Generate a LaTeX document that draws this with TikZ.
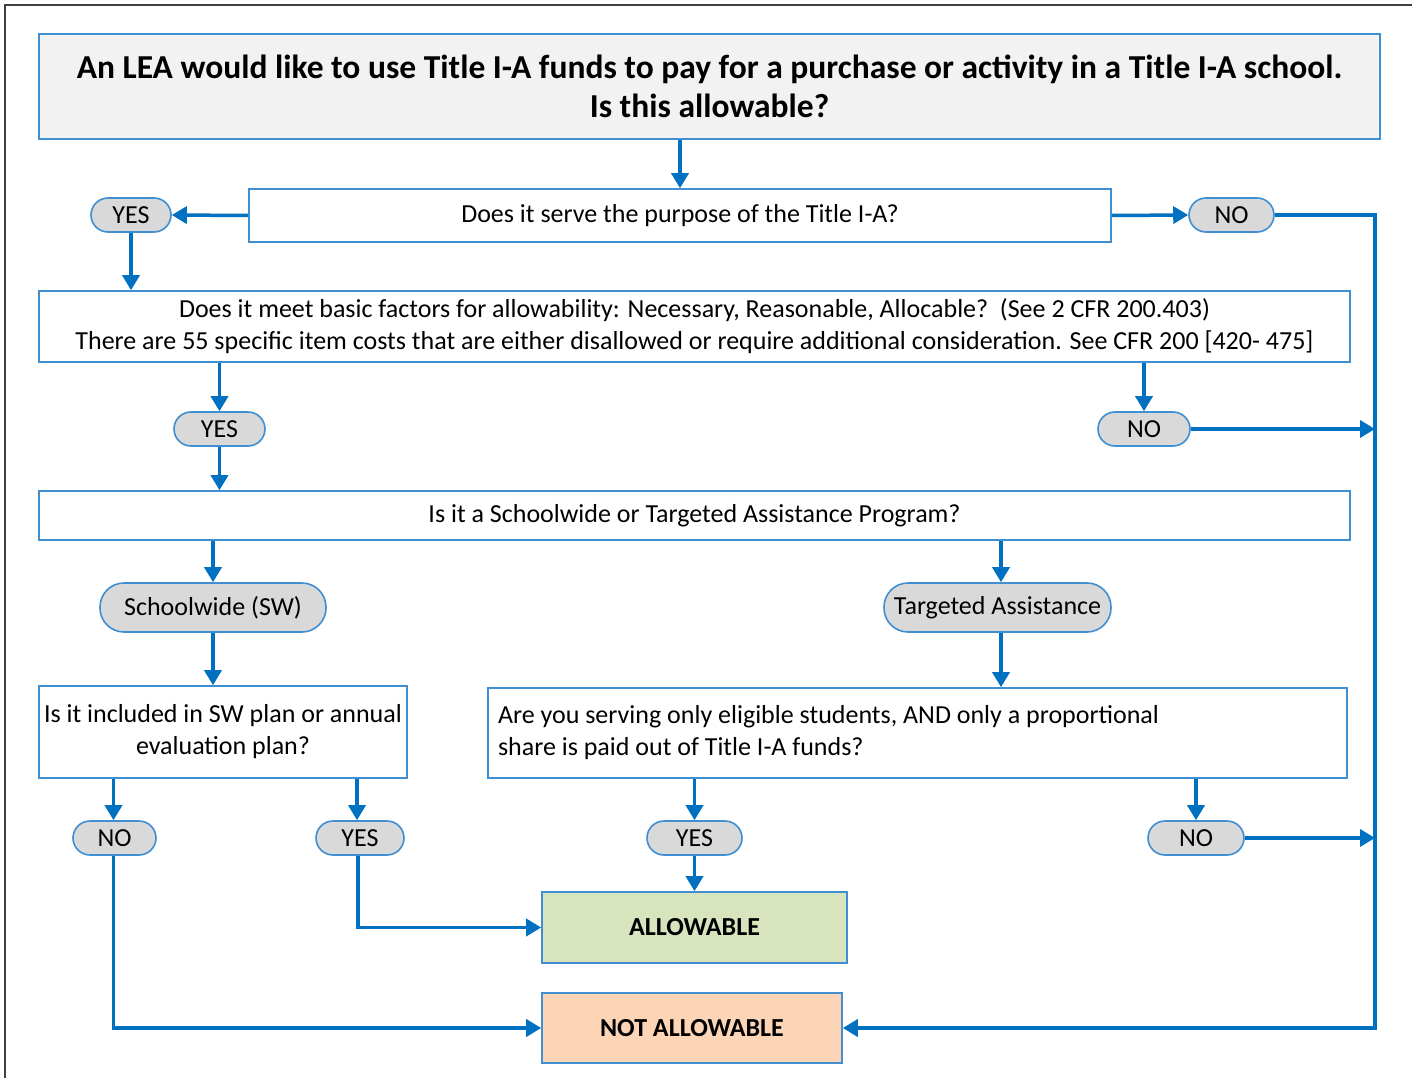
\documentclass[tikz,border=0pt]{standalone}
\usepackage{fontspec}
\setmainfont{Carlito}
\usetikzlibrary{arrows.meta}
\definecolor{arr}{HTML}{0070C0}
\definecolor{bord}{HTML}{3F8FD2}
\definecolor{titlefill}{HTML}{F2F2F2}
\definecolor{pillfill}{HTML}{D9D9D9}
\definecolor{okfill}{HTML}{D7E4BD}
\definecolor{nofill}{HTML}{FBD5B5}
\begin{document}
\begin{tikzpicture}[x=1pt,y=-1pt,
  box/.style={draw=bord,line width=1.6pt,fill=white,inner sep=0pt,align=center,font=\fontsize{26}{32}\selectfont},
  pill/.style={draw=bord,line width=1.6pt,fill=pillfill,inner sep=0pt,rounded corners=17pt,font=\fontsize{26}{30}\selectfont},
  conn/.style={draw=arr,line width=3.5pt,-{Triangle[length=15pt,width=17pt]}},
  line/.style={draw=arr,line width=3.5pt}]
\useasboundingbox (0,0) rectangle (1412,1078);
\fill[white] (0,0) rectangle (1412,1078);
\draw[black!75,line width=1.6pt] (5,1078) -- (5,5) -- (1412,5);

\node[box,fill=titlefill,minimum width=1341pt,minimum height=105pt,font=\fontsize{33.5}{39}\selectfont\bfseries] (title) at (709.5,86.5)
  {An LEA would like to use Title I-A funds to pay for a purchase or activity in a Title I-A school.\\Is this allowable?};
\node[box,minimum width=862pt,minimum height=53pt] (q1) at (680,215.5) {Does it serve the purpose of the Title I-A?};
\node[pill,minimum width=80pt,minimum height=34pt] (yes1) at (131,215) {YES};
\node[pill,minimum width=85pt,minimum height=34pt] (no1) at (1231.5,215) {NO};
\node[box,minimum width=1311pt,minimum height=71pt] (q2) at (694.5,326.5)
  {Does it meet basic factors for allowability: Necessary, Reasonable, Allocable?\ \ (See 2 CFR 200.403)\\There are 55 specific item costs that are either disallowed or require additional consideration. See CFR 200 [420- 475]};
\node[pill,minimum width=91pt,minimum height=34pt] (yes2) at (219.5,429) {YES};
\node[pill,minimum width=92pt,minimum height=34pt] (no2) at (1144,429) {NO};
\node[box,minimum width=1311pt,minimum height=49pt] (q3) at (694.5,515.5) {Is it a Schoolwide or Targeted Assistance Program?};
\node[pill,minimum width=226pt,minimum height=49pt,rounded corners=24pt] (sw) at (213,607.5) {Schoolwide (SW)};
\node[pill,minimum width=227pt,minimum height=49pt,rounded corners=24pt] (ta) at (997.5,607.5) {Targeted Assistance};
\node[box,minimum width=368pt,minimum height=92pt] (q4) at (223,732) {Is it included in SW plan or annual\\evaluation plan?};
\node[box,minimum width=859pt,minimum height=90pt,align=flush left,text width=839pt] (q5) at (917.5,733)
  {Are you serving only eligible students, AND only a proportional\\share is paid out of Title I-A funds?};
\node[pill,minimum width=83pt,minimum height=34pt] (no3) at (114.5,838) {NO};
\node[pill,minimum width=88pt,minimum height=34pt] (yes3) at (360,838) {YES};
\node[pill,minimum width=95pt,minimum height=34pt] (yes4) at (694.5,838) {YES};
\node[pill,minimum width=96pt,minimum height=34pt] (no4) at (1196,838) {NO};
\node[box,fill=okfill,minimum width=305pt,minimum height=71pt,font=\fontsize{26}{30}\selectfont\bfseries] (allow) at (694.5,927.5) {ALLOWABLE};
\node[box,fill=nofill,minimum width=300pt,minimum height=70pt,font=\fontsize{26}{30}\selectfont\bfseries] (notallow) at (692,1028) {NOT ALLOWABLE};

\coordinate (rail) at (1375,0);

\draw[conn] (title.south -| q1) -- (q1.north);
\draw[conn] (q1.west) -- (yes1.east);
\draw[conn] (q1.east) -- (no1.west);
\draw[conn] (yes1.south) -- (q2.north -| yes1.south);
\draw[conn] (q2.south -| yes2) -- (yes2.north);
\draw[conn] (yes2.south) -- (q3.north -| yes2.south);
\draw[conn] (q2.south -| no2) -- (no2.north);
\draw[conn] (no2.east) -- (no2.east -| rail);
\draw[conn] (q3.south -| sw) -- (sw.north);
\draw[conn] (sw.south) -- (q4.north -| sw.south);
\draw[conn] ([xshift=3.5pt]q3.south -| ta) -- ([xshift=3.5pt]ta.north);
\draw[conn] ([xshift=3.5pt]ta.south) -- ([xshift=3.5pt]q5.north -| ta.south);
\draw[conn] ([xshift=-1pt]q4.south -| no3) -- ([xshift=-1pt]no3.north);
\draw[conn] ([xshift=-3pt]q4.south -| yes3) -- ([xshift=-3pt]yes3.north);
\draw[conn] (q5.south -| yes4) -- (yes4.north);
\draw[conn] (q5.south -| no4) -- (no4.north);
\draw[conn] (yes4.south) -- (allow.north -| yes4.south);
\draw[conn] (no4.east) -- (no4.east -| rail);
\draw[conn] ([xshift=-2pt]yes3.south) |- (allow.west);
\draw[conn] ([xshift=-1pt]no3.south) |- (notallow.west);
\draw[conn] (no1.east) -| (rail |- notallow.east) -- (notallow.east);
\end{tikzpicture}
\end{document}
